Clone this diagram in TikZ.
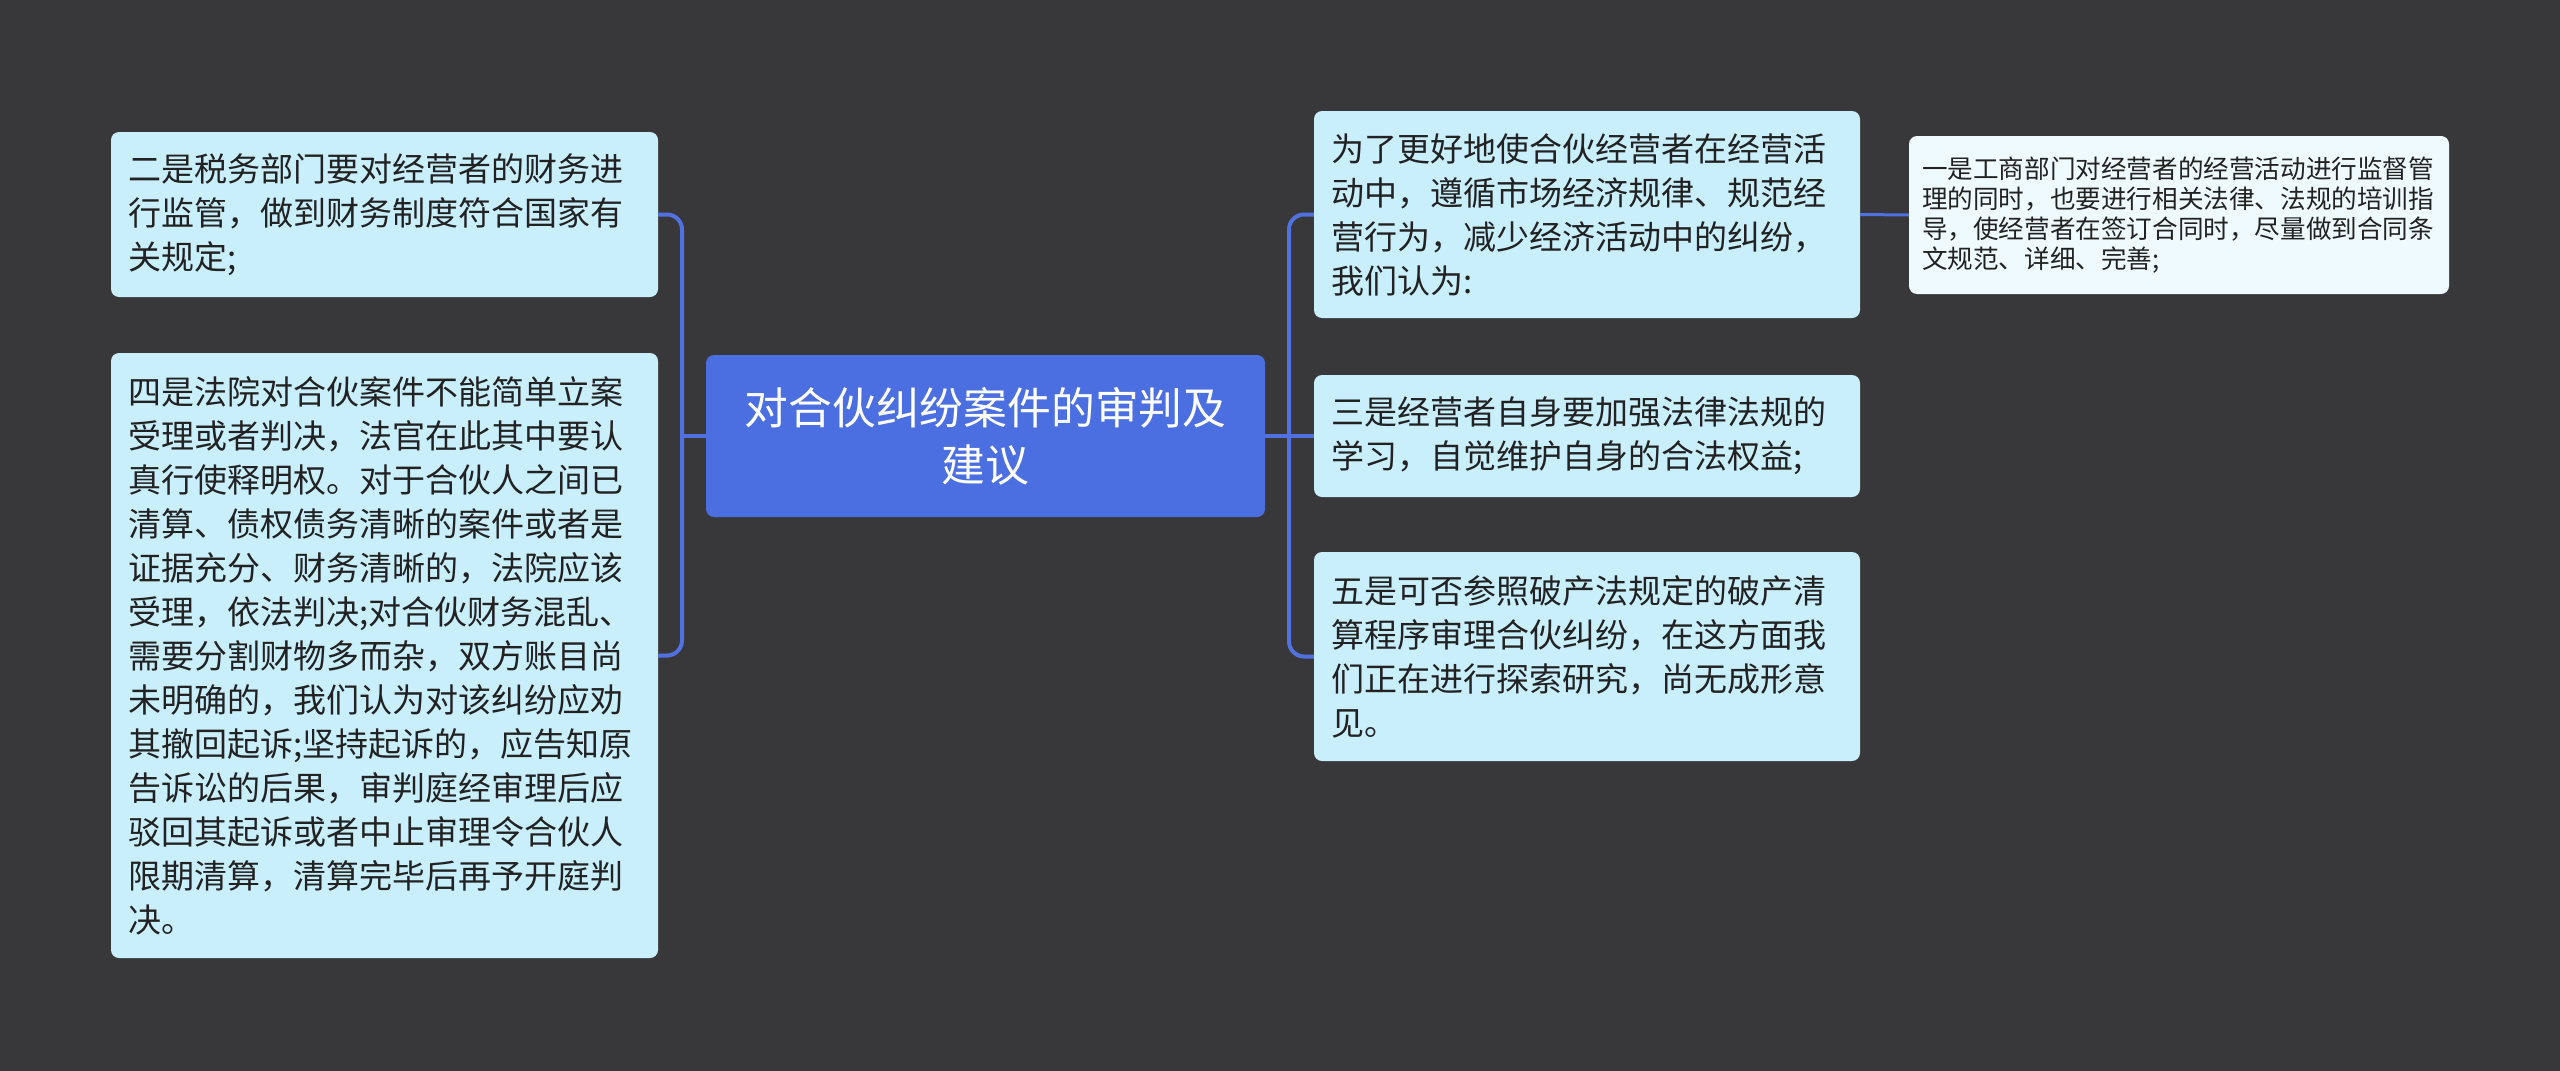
\documentclass[tikz,border=0pt]{standalone}
\usepackage{fontspec}
\setmainfont{Noto Sans CJK SC}

\definecolor{bgdark}{RGB}{56,55,57}
\definecolor{leaffill}{RGB}{201,238,252}
\definecolor{farfill}{RGB}{238,250,253}
\definecolor{topicblue}{RGB}{75,111,224}
\definecolor{linkblue}{RGB}{82,113,224}
\definecolor{inktext}{RGB}{34,34,34}

\begin{document}
\begin{tikzpicture}[x=1pt, y=-1pt,
    leaf/.style={fill=leaffill, rounded corners=8pt, text=inktext, align=left,
      inner xsep=17pt, inner ysep=0pt, font=\fontsize{33}{44}\selectfont},
    subleaf/.style={fill=farfill, rounded corners=8pt, text=inktext, align=left,
      inner xsep=13pt, inner ysep=0pt, font=\fontsize{25.6}{30}\selectfont},
    topic/.style={fill=topicblue, rounded corners=8pt, text=white, align=center,
      font=\fontsize{43.8}{56.7}\selectfont},
    link/.style={draw=linkblue, line width=4pt, rounded corners=15pt},
    thinlink/.style={draw=linkblue, line width=3pt}]
    % Background
    \fill[bgdark] (0, 0) rectangle (2560, 1071);

    % Root
    \node[topic, minimum width=559pt, minimum height=162pt] (root) at (985.5, 436)
      {对合伙纠纷案件的审判及\\建议};

    % Left side
    \node[leaf, text width=513pt, minimum height=165pt] (tax) at (384.5, 214.5)
      {二是税务部门要对经营者的财务进\\行监管，做到财务制度符合国家有\\关规定;};
    \node[leaf, text width=513pt, minimum height=605pt] (court) at (384.5, 655.5)
      {四是法院对合伙案件不能简单立案\\受理或者判决，法官在此其中要认\\真行使释明权。对于合伙人之间已\\清算、债权债务清晰的案件或者是\\证据充分、财务清晰的，法院应该\\受理，依法判决;对合伙财务混乱、\\需要分割财物多而杂，双方账目尚\\未明确的，我们认为对该纠纷应劝\\其撤回起诉;坚持起诉的，应告知原\\告诉讼的后果，审判庭经审理后应\\驳回其起诉或者中止审理令合伙人\\限期清算，清算完毕后再予开庭判\\决。};

    % Right side
    \node[leaf, text width=512pt, minimum height=207pt] (aim) at (1587, 214.5)
      {为了更好地使合伙经营者在经营活\\动中，遵循市场经济规律、规范经\\营行为，减少经济活动中的纠纷，\\我们认为:};
    \node[leaf, text width=512pt, minimum height=122pt] (self) at (1587, 436)
      {三是经营者自身要加强法律法规的\\学习，自觉维护自身的合法权益;};
    \node[leaf, text width=512pt, minimum height=209pt] (bankrupt) at (1587, 656.5)
      {五是可否参照破产法规定的破产清\\算程序审理合伙纠纷，在这方面我\\们正在进行探索研究，尚无成形意\\见。};

    % Far right
    \node[subleaf, text width=514pt, minimum height=158pt] (commerce) at (2179, 215)
      {一是工商部门对经营者的经营活动进行监督管\\理的同时，也要进行相关法律、法规的培训指\\导，使经营者在签订合同时，尽量做到合同条\\文规范、详细、完善;};

    % Links
    \coordinate (lbus) at (682, 436);
    \coordinate (rbus) at (1289, 436);
    \draw[link] (root.west) -- (lbus);
    \draw[link] (lbus) |- (tax.east);
    \draw[link] (lbus) |- (court.east);
    \draw[link] (root.east) -- (rbus);
    \draw[link] (rbus) |- (aim.west);
    \draw[link] (rbus) -- (self.west);
    \draw[link] (rbus) |- (bankrupt.west);
    \draw[thinlink] (aim.east) -- (commerce.west);
  \end{tikzpicture}
\end{document}
